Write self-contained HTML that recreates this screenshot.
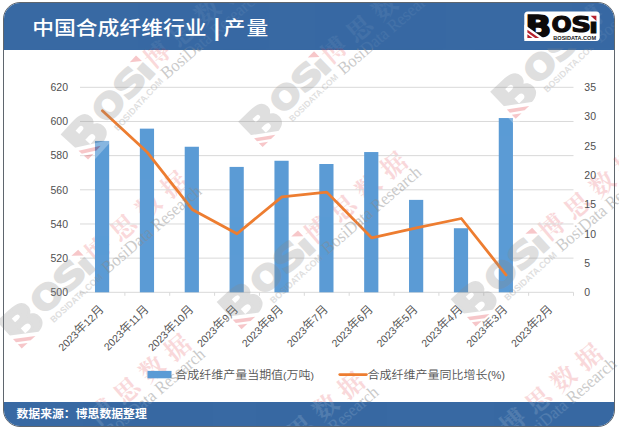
<!DOCTYPE html>
<html lang="zh-CN"><head><meta charset="utf-8"><title>中国合成纤维行业 | 产量</title>
<style>
html,body{margin:0;padding:0;background:#fff;}
body{width:619px;height:430px;position:relative;overflow:hidden;font-family:"Liberation Sans","Noto Sans CJK SC",sans-serif;}
.frame{position:absolute;left:3px;top:2px;width:610px;height:422.5px;border:1px solid #5f666e;border-radius:17px 17px 17px 17px;background:#fff;overflow:hidden;box-sizing:content-box;}
.hdr{position:absolute;left:-1px;top:-1px;width:612px;height:47.5px;background:#3869a3;}
.ftr{position:absolute;left:-1px;top:399px;width:612px;height:26px;background:#3869a3;}
.title{position:absolute;left:32.2px;top:12.4px;color:#fff;font-size:21.8px;line-height:32px;font-weight:500;white-space:nowrap;transform:scaleY(0.87);transform-origin:0 26px;}
.title .bar{display:inline-block;width:16.8px;text-align:center;font-weight:700;position:relative;top:-1.5px;left:1.8px;transform:scaleY(1.3);}
.title .t2{letter-spacing:1.4px;}
.src{position:absolute;left:16.5px;top:404.6px;color:#fff;font-size:11.85px;line-height:18px;font-weight:700;white-space:nowrap;transform:scaleY(0.93);transform-origin:0 9px;}
.chart{position:absolute;left:0;top:0;}
</style></head><body>
<div class="frame"><div class="hdr"></div><div class="ftr"></div></div>
<svg class="wm" width="619" height="430" viewBox="0 0 619 430" style="position:absolute;left:0;top:0;pointer-events:none">
<clipPath id="wmclipr"><rect x="0" y="48.5" width="619" height="353.5"/></clipPath>
<g clip-path="url(#wmclipr)">
<g transform="translate(98,249) rotate(-40.5)">
<text x="-12.5" y="9.3" font-family='"Liberation Serif","Noto Serif CJK SC",serif' font-weight="700" font-size="25" letter-spacing="8.2" fill="#e0303a" opacity="0.18">博思数据</text>
</g>
<g transform="translate(317.8,229.8) rotate(-40.5)">
<text x="-12.5" y="9.3" font-family='"Liberation Serif","Noto Serif CJK SC",serif' font-weight="700" font-size="25" letter-spacing="8.2" fill="#e0303a" opacity="0.18">博思数据</text>
</g>
<g transform="translate(552,227) rotate(-40.5)">
<text x="-12.5" y="9.3" font-family='"Liberation Serif","Noto Serif CJK SC",serif' font-weight="700" font-size="25" letter-spacing="8.2" fill="#e0303a" opacity="0.18">博思数据</text>
</g>
<g transform="translate(157,54.5) rotate(-40.5)">
<text x="-12.5" y="9.3" font-family='"Liberation Serif","Noto Serif CJK SC",serif' font-weight="700" font-size="25" letter-spacing="8.2" fill="#e0303a" opacity="0.18">博思数据</text>
</g>
<g transform="translate(334,50) rotate(-40.5)">
<text x="-12.5" y="9.3" font-family='"Liberation Serif","Noto Serif CJK SC",serif' font-weight="700" font-size="25" letter-spacing="8.2" fill="#e0303a" opacity="0.18">博思数据</text>
</g>
<g transform="translate(590.5,18.3) rotate(-40.5)">
<text x="-12.5" y="9.3" font-family='"Liberation Serif","Noto Serif CJK SC",serif' font-weight="700" font-size="25" letter-spacing="8.2" fill="#e0303a" opacity="0.18">博思数据</text>
</g>
<g transform="translate(101.5,412) rotate(-40.5)">
<text x="-12.5" y="9.3" font-family='"Liberation Serif","Noto Serif CJK SC",serif' font-weight="700" font-size="25" letter-spacing="8.2" fill="#e0303a" opacity="0.18">博思数据</text>
</g>
<g transform="translate(275,450) rotate(-40.5)">
<text x="-12.5" y="9.3" font-family='"Liberation Serif","Noto Serif CJK SC",serif' font-weight="700" font-size="25" letter-spacing="8.2" fill="#e0303a" opacity="0.18">博思数据</text>
</g>
<g transform="translate(513,421.5) rotate(-40.5)">
<text x="-12.5" y="9.3" font-family='"Liberation Serif","Noto Serif CJK SC",serif' font-weight="700" font-size="25" letter-spacing="8.2" fill="#e0303a" opacity="0.18">博思数据</text>
</g>
</g></svg>
<svg class="chart" width="619" height="430" viewBox="0 0 619 430">
<line x1="80.0" x2="573.5" y1="87.30" y2="87.30" stroke="#d9d9d9" stroke-width="1"/>
<line x1="80.0" x2="573.5" y1="121.47" y2="121.47" stroke="#d9d9d9" stroke-width="1"/>
<line x1="80.0" x2="573.5" y1="155.63" y2="155.63" stroke="#d9d9d9" stroke-width="1"/>
<line x1="80.0" x2="573.5" y1="189.80" y2="189.80" stroke="#d9d9d9" stroke-width="1"/>
<line x1="80.0" x2="573.5" y1="223.97" y2="223.97" stroke="#d9d9d9" stroke-width="1"/>
<line x1="80.0" x2="573.5" y1="258.13" y2="258.13" stroke="#d9d9d9" stroke-width="1"/>
<line x1="80.0" x2="573.5" y1="292.30" y2="292.30" stroke="#d9d9d9" stroke-width="1"/>
<line x1="80.00" x2="80.00" y1="292.3" y2="295.8" stroke="#d9d9d9" stroke-width="1"/>
<line x1="124.86" x2="124.86" y1="292.3" y2="295.8" stroke="#d9d9d9" stroke-width="1"/>
<line x1="169.73" x2="169.73" y1="292.3" y2="295.8" stroke="#d9d9d9" stroke-width="1"/>
<line x1="214.59" x2="214.59" y1="292.3" y2="295.8" stroke="#d9d9d9" stroke-width="1"/>
<line x1="259.45" x2="259.45" y1="292.3" y2="295.8" stroke="#d9d9d9" stroke-width="1"/>
<line x1="304.32" x2="304.32" y1="292.3" y2="295.8" stroke="#d9d9d9" stroke-width="1"/>
<line x1="349.18" x2="349.18" y1="292.3" y2="295.8" stroke="#d9d9d9" stroke-width="1"/>
<line x1="394.05" x2="394.05" y1="292.3" y2="295.8" stroke="#d9d9d9" stroke-width="1"/>
<line x1="438.91" x2="438.91" y1="292.3" y2="295.8" stroke="#d9d9d9" stroke-width="1"/>
<line x1="483.77" x2="483.77" y1="292.3" y2="295.8" stroke="#d9d9d9" stroke-width="1"/>
<line x1="528.64" x2="528.64" y1="292.3" y2="295.8" stroke="#d9d9d9" stroke-width="1"/>
<line x1="573.50" x2="573.50" y1="292.3" y2="295.8" stroke="#d9d9d9" stroke-width="1"/>
<rect x="94.98" y="140.94" width="14.2" height="151.36" fill="#5b9bd5"/>
<rect x="139.85" y="128.64" width="14.2" height="163.66" fill="#5b9bd5"/>
<rect x="184.71" y="146.75" width="14.2" height="145.55" fill="#5b9bd5"/>
<rect x="229.57" y="166.91" width="14.2" height="125.39" fill="#5b9bd5"/>
<rect x="274.44" y="160.76" width="14.2" height="131.54" fill="#5b9bd5"/>
<rect x="319.30" y="164.00" width="14.2" height="128.30" fill="#5b9bd5"/>
<rect x="364.16" y="152.05" width="14.2" height="140.25" fill="#5b9bd5"/>
<rect x="409.03" y="199.88" width="14.2" height="92.42" fill="#5b9bd5"/>
<rect x="453.89" y="228.24" width="14.2" height="64.06" fill="#5b9bd5"/>
<rect x="498.75" y="118.05" width="14.2" height="174.25" fill="#5b9bd5"/>
<polyline points="102.43,110.73 147.30,152.31 192.16,209.42 237.02,233.73 281.89,196.83 326.75,192.14 371.61,237.83 416.48,227.87 461.34,218.50 506.20,275.02" fill="none" stroke="#ed7d31" stroke-width="2.8" stroke-linejoin="round" stroke-linecap="round"/>
<g font-family='"Liberation Sans","Noto Sans CJK SC",sans-serif' font-size="10.5" fill="#505050">
<text x="68" y="91.10" text-anchor="end">620</text>
<text x="68" y="125.27" text-anchor="end">600</text>
<text x="68" y="159.43" text-anchor="end">580</text>
<text x="68" y="193.60" text-anchor="end">560</text>
<text x="68" y="227.77" text-anchor="end">540</text>
<text x="68" y="261.93" text-anchor="end">520</text>
<text x="68" y="296.10" text-anchor="end">500</text>
<text x="584.3" y="91.10">35</text>
<text x="584.3" y="120.39">30</text>
<text x="584.3" y="149.67">25</text>
<text x="584.3" y="178.96">20</text>
<text x="584.3" y="208.24">15</text>
<text x="584.3" y="237.53">10</text>
<text x="584.3" y="266.81">5</text>
<text x="584.3" y="296.10">0</text>
</g>
<g font-family='"Liberation Sans","Noto Sans CJK SC",sans-serif' font-size="10.5" fill="#505050">
<text text-anchor="end" transform="translate(104.53,310.00) rotate(-45)">2023<tspan font-size="12" font-weight="350">年</tspan>12<tspan font-size="12" font-weight="350">月</tspan></text>
<text text-anchor="end" transform="translate(149.40,310.00) rotate(-45)">2023<tspan font-size="12" font-weight="350">年</tspan>11<tspan font-size="12" font-weight="350">月</tspan></text>
<text text-anchor="end" transform="translate(194.26,310.00) rotate(-45)">2023<tspan font-size="12" font-weight="350">年</tspan>10<tspan font-size="12" font-weight="350">月</tspan></text>
<text text-anchor="end" transform="translate(239.12,310.00) rotate(-45)">2023<tspan font-size="12" font-weight="350">年</tspan>9<tspan font-size="12" font-weight="350">月</tspan></text>
<text text-anchor="end" transform="translate(283.99,310.00) rotate(-45)">2023<tspan font-size="12" font-weight="350">年</tspan>8<tspan font-size="12" font-weight="350">月</tspan></text>
<text text-anchor="end" transform="translate(328.85,310.00) rotate(-45)">2023<tspan font-size="12" font-weight="350">年</tspan>7<tspan font-size="12" font-weight="350">月</tspan></text>
<text text-anchor="end" transform="translate(373.71,310.00) rotate(-45)">2023<tspan font-size="12" font-weight="350">年</tspan>6<tspan font-size="12" font-weight="350">月</tspan></text>
<text text-anchor="end" transform="translate(418.58,310.00) rotate(-45)">2023<tspan font-size="12" font-weight="350">年</tspan>5<tspan font-size="12" font-weight="350">月</tspan></text>
<text text-anchor="end" transform="translate(463.44,310.00) rotate(-45)">2023<tspan font-size="12" font-weight="350">年</tspan>4<tspan font-size="12" font-weight="350">月</tspan></text>
<text text-anchor="end" transform="translate(508.30,310.00) rotate(-45)">2023<tspan font-size="12" font-weight="350">年</tspan>3<tspan font-size="12" font-weight="350">月</tspan></text>
<text text-anchor="end" transform="translate(553.17,310.00) rotate(-45)">2023<tspan font-size="12" font-weight="350">年</tspan>2<tspan font-size="12" font-weight="350">月</tspan></text>
</g>
<rect x="147.5" y="370.9" width="24" height="7.4" fill="#5b9bd5"/>
<text transform="translate(175.2,379) scale(1,0.9)" font-family='"Liberation Sans","Noto Sans CJK SC",sans-serif' font-size="12" font-weight="350" fill="#555">合成纤维产量当期值<tspan font-size="10.5">(</tspan>万吨<tspan font-size="10.5">)</tspan></text>
<line x1="339.8" x2="366.4" y1="374.6" y2="374.6" stroke="#ed7d31" stroke-width="2.8" stroke-linecap="round"/>
<text transform="translate(367.6,379) scale(1,0.9)" font-family='"Liberation Sans","Noto Sans CJK SC",sans-serif' font-size="12" font-weight="350" fill="#555">合成纤维产量同比增长<tspan font-size="11.3">(%)</tspan></text>
</svg>
<svg class="wm" width="619" height="430" viewBox="0 0 619 430" style="position:absolute;left:0;top:0;pointer-events:none">
<clipPath id="wmclipg"><rect x="0" y="48.5" width="619" height="353.5"/></clipPath>
<g clip-path="url(#wmclipg)">
<g transform="translate(98,249) rotate(-40.5)">
<g opacity="0.27">
<g transform="translate(-19.6,1.1) rotate(-2) scale(1.57) translate(-593.5,-24.3)">
<g font-family='"DejaVu Sans","Liberation Sans",sans-serif' font-weight="700" fill="#8a8a8a" stroke="#8a8a8a">
<text font-size="29" stroke-width="1.43" transform="translate(525.15,36.92) scale(1.183,1.034)">B</text>
<text font-size="21" stroke-width="1.10" transform="translate(551.48,31.95) scale(1.133,1.012)">O</text>
<text font-size="21" stroke-width="1.10" transform="translate(571.15,31.95) scale(1.311,1.012)">S</text>
<text font-size="15" stroke-width="0.66" transform="translate(588.98,32.55) scale(1.758,1.265)">ı</text>
</g>
<polygon points="524.3,24.6 547.5,40.9 524.3,40.9" fill="#fff"/>
<polygon points="527.4,29.7 539.2,37.9 535.2,37.9 527.4,32.5" fill="#e0303a"/>
<polygon points="527.4,34.3 532.5,37.9 527.4,37.9" fill="#e0303a"/>
<polygon points="590.6,15.8 596.4,15.8 596.4,20.9" fill="#e0303a"/>
<text x="553.3" y="39.8" font-family='"Liberation Sans",sans-serif' font-weight="700" font-size="5.8" fill="#8a8a8a" textLength="42.8" lengthAdjust="spacingAndGlyphs">BOSIDATA.COM</text>
</g>
</g>
<text x="-9" y="25.5" font-family='"Liberation Serif",serif' font-size="17.5" fill="#8a8a8a" opacity="0.45" textLength="125" lengthAdjust="spacingAndGlyphs">BosiData Research</text>
</g>
<g transform="translate(317.8,229.8) rotate(-40.5)">
<g opacity="0.27">
<g transform="translate(-19.6,1.1) rotate(-2) scale(1.57) translate(-593.5,-24.3)">
<g font-family='"DejaVu Sans","Liberation Sans",sans-serif' font-weight="700" fill="#8a8a8a" stroke="#8a8a8a">
<text font-size="29" stroke-width="1.43" transform="translate(525.15,36.92) scale(1.183,1.034)">B</text>
<text font-size="21" stroke-width="1.10" transform="translate(551.48,31.95) scale(1.133,1.012)">O</text>
<text font-size="21" stroke-width="1.10" transform="translate(571.15,31.95) scale(1.311,1.012)">S</text>
<text font-size="15" stroke-width="0.66" transform="translate(588.98,32.55) scale(1.758,1.265)">ı</text>
</g>
<polygon points="524.3,24.6 547.5,40.9 524.3,40.9" fill="#fff"/>
<polygon points="527.4,29.7 539.2,37.9 535.2,37.9 527.4,32.5" fill="#e0303a"/>
<polygon points="527.4,34.3 532.5,37.9 527.4,37.9" fill="#e0303a"/>
<polygon points="590.6,15.8 596.4,15.8 596.4,20.9" fill="#e0303a"/>
<text x="553.3" y="39.8" font-family='"Liberation Sans",sans-serif' font-weight="700" font-size="5.8" fill="#8a8a8a" textLength="42.8" lengthAdjust="spacingAndGlyphs">BOSIDATA.COM</text>
</g>
</g>
<text x="-9" y="25.5" font-family='"Liberation Serif",serif' font-size="17.5" fill="#8a8a8a" opacity="0.45" textLength="125" lengthAdjust="spacingAndGlyphs">BosiData Research</text>
</g>
<g transform="translate(552,227) rotate(-40.5)">
<g opacity="0.27">
<g transform="translate(-19.6,1.1) rotate(-2) scale(1.57) translate(-593.5,-24.3)">
<g font-family='"DejaVu Sans","Liberation Sans",sans-serif' font-weight="700" fill="#8a8a8a" stroke="#8a8a8a">
<text font-size="29" stroke-width="1.43" transform="translate(525.15,36.92) scale(1.183,1.034)">B</text>
<text font-size="21" stroke-width="1.10" transform="translate(551.48,31.95) scale(1.133,1.012)">O</text>
<text font-size="21" stroke-width="1.10" transform="translate(571.15,31.95) scale(1.311,1.012)">S</text>
<text font-size="15" stroke-width="0.66" transform="translate(588.98,32.55) scale(1.758,1.265)">ı</text>
</g>
<polygon points="524.3,24.6 547.5,40.9 524.3,40.9" fill="#fff"/>
<polygon points="527.4,29.7 539.2,37.9 535.2,37.9 527.4,32.5" fill="#e0303a"/>
<polygon points="527.4,34.3 532.5,37.9 527.4,37.9" fill="#e0303a"/>
<polygon points="590.6,15.8 596.4,15.8 596.4,20.9" fill="#e0303a"/>
<text x="553.3" y="39.8" font-family='"Liberation Sans",sans-serif' font-weight="700" font-size="5.8" fill="#8a8a8a" textLength="42.8" lengthAdjust="spacingAndGlyphs">BOSIDATA.COM</text>
</g>
</g>
<text x="-9" y="25.5" font-family='"Liberation Serif",serif' font-size="17.5" fill="#8a8a8a" opacity="0.45" textLength="125" lengthAdjust="spacingAndGlyphs">BosiData Research</text>
</g>
<g transform="translate(157,54.5) rotate(-40.5)">
<g opacity="0.27">
<g transform="translate(-19.6,1.1) rotate(-7) scale(1.58) translate(-593.5,-24.3)">
<g font-family='"DejaVu Sans","Liberation Sans",sans-serif' font-weight="700" fill="#8a8a8a" stroke="#8a8a8a">
<text font-size="29" stroke-width="1.43" transform="translate(525.15,36.92) scale(1.183,1.034)">B</text>
<text font-size="21" stroke-width="1.10" transform="translate(551.48,31.95) scale(1.133,1.012)">O</text>
<text font-size="21" stroke-width="1.10" transform="translate(571.15,31.95) scale(1.311,1.012)">S</text>
<text font-size="15" stroke-width="0.66" transform="translate(588.98,32.55) scale(1.758,1.265)">ı</text>
</g>
<polygon points="524.3,24.6 547.5,40.9 524.3,40.9" fill="#fff"/>
<polygon points="527.4,29.7 539.2,37.9 535.2,37.9 527.4,32.5" fill="#e0303a"/>
<polygon points="527.4,34.3 532.5,37.9 527.4,37.9" fill="#e0303a"/>
<polygon points="590.6,15.8 596.4,15.8 596.4,20.9" fill="#e0303a"/>
<text x="553.3" y="39.8" font-family='"Liberation Sans",sans-serif' font-weight="700" font-size="5.8" fill="#8a8a8a" textLength="42.8" lengthAdjust="spacingAndGlyphs">BOSIDATA.COM</text>
</g>
</g>
<text x="-9" y="25.5" font-family='"Liberation Serif",serif' font-size="17.5" fill="#8a8a8a" opacity="0.45" textLength="125" lengthAdjust="spacingAndGlyphs">BosiData Research</text>
</g>
<g transform="translate(334,50) rotate(-40.5)">
<g opacity="0.27">
<g transform="translate(-19.6,1.1) rotate(-3.5) scale(1.5) translate(-593.5,-24.3)">
<g font-family='"DejaVu Sans","Liberation Sans",sans-serif' font-weight="700" fill="#8a8a8a" stroke="#8a8a8a">
<text font-size="29" stroke-width="1.43" transform="translate(525.15,36.92) scale(1.183,1.034)">B</text>
<text font-size="21" stroke-width="1.10" transform="translate(551.48,31.95) scale(1.133,1.012)">O</text>
<text font-size="21" stroke-width="1.10" transform="translate(571.15,31.95) scale(1.311,1.012)">S</text>
<text font-size="15" stroke-width="0.66" transform="translate(588.98,32.55) scale(1.758,1.265)">ı</text>
</g>
<polygon points="524.3,24.6 547.5,40.9 524.3,40.9" fill="#fff"/>
<polygon points="527.4,29.7 539.2,37.9 535.2,37.9 527.4,32.5" fill="#e0303a"/>
<polygon points="527.4,34.3 532.5,37.9 527.4,37.9" fill="#e0303a"/>
<polygon points="590.6,15.8 596.4,15.8 596.4,20.9" fill="#e0303a"/>
<text x="553.3" y="39.8" font-family='"Liberation Sans",sans-serif' font-weight="700" font-size="5.8" fill="#8a8a8a" textLength="42.8" lengthAdjust="spacingAndGlyphs">BOSIDATA.COM</text>
</g>
</g>
<text x="-9" y="25.5" font-family='"Liberation Serif",serif' font-size="17.5" fill="#8a8a8a" opacity="0.45" textLength="125" lengthAdjust="spacingAndGlyphs">BosiData Research</text>
</g>
<g transform="translate(590.5,18.3) rotate(-40.5)">
<g opacity="0.27">
<g transform="translate(-19.6,1.1) rotate(-3) scale(1.57) translate(-593.5,-24.3)">
<g font-family='"DejaVu Sans","Liberation Sans",sans-serif' font-weight="700" fill="#8a8a8a" stroke="#8a8a8a">
<text font-size="29" stroke-width="1.43" transform="translate(525.15,36.92) scale(1.183,1.034)">B</text>
<text font-size="21" stroke-width="1.10" transform="translate(551.48,31.95) scale(1.133,1.012)">O</text>
<text font-size="21" stroke-width="1.10" transform="translate(571.15,31.95) scale(1.311,1.012)">S</text>
<text font-size="15" stroke-width="0.66" transform="translate(588.98,32.55) scale(1.758,1.265)">ı</text>
</g>
<polygon points="524.3,24.6 547.5,40.9 524.3,40.9" fill="#fff"/>
<polygon points="527.4,29.7 539.2,37.9 535.2,37.9 527.4,32.5" fill="#e0303a"/>
<polygon points="527.4,34.3 532.5,37.9 527.4,37.9" fill="#e0303a"/>
<polygon points="590.6,15.8 596.4,15.8 596.4,20.9" fill="#e0303a"/>
<text x="553.3" y="39.8" font-family='"Liberation Sans",sans-serif' font-weight="700" font-size="5.8" fill="#8a8a8a" textLength="42.8" lengthAdjust="spacingAndGlyphs">BOSIDATA.COM</text>
</g>
</g>
<text x="-9" y="25.5" font-family='"Liberation Serif",serif' font-size="17.5" fill="#8a8a8a" opacity="0.45" textLength="125" lengthAdjust="spacingAndGlyphs">BosiData Research</text>
</g>
<g transform="translate(101.5,412) rotate(-40.5)">
<g opacity="0.27">
<g transform="translate(-19.6,1.1) rotate(-2) scale(1.57) translate(-593.5,-24.3)">
<g font-family='"DejaVu Sans","Liberation Sans",sans-serif' font-weight="700" fill="#8a8a8a" stroke="#8a8a8a">
<text font-size="29" stroke-width="1.43" transform="translate(525.15,36.92) scale(1.183,1.034)">B</text>
<text font-size="21" stroke-width="1.10" transform="translate(551.48,31.95) scale(1.133,1.012)">O</text>
<text font-size="21" stroke-width="1.10" transform="translate(571.15,31.95) scale(1.311,1.012)">S</text>
<text font-size="15" stroke-width="0.66" transform="translate(588.98,32.55) scale(1.758,1.265)">ı</text>
</g>
<polygon points="524.3,24.6 547.5,40.9 524.3,40.9" fill="#fff"/>
<polygon points="527.4,29.7 539.2,37.9 535.2,37.9 527.4,32.5" fill="#e0303a"/>
<polygon points="527.4,34.3 532.5,37.9 527.4,37.9" fill="#e0303a"/>
<polygon points="590.6,15.8 596.4,15.8 596.4,20.9" fill="#e0303a"/>
<text x="553.3" y="39.8" font-family='"Liberation Sans",sans-serif' font-weight="700" font-size="5.8" fill="#8a8a8a" textLength="42.8" lengthAdjust="spacingAndGlyphs">BOSIDATA.COM</text>
</g>
</g>
<text x="-9" y="25.5" font-family='"Liberation Serif",serif' font-size="17.5" fill="#8a8a8a" opacity="0.45" textLength="125" lengthAdjust="spacingAndGlyphs">BosiData Research</text>
</g>
<g transform="translate(275,450) rotate(-40.5)">
<g opacity="0.27">
<g transform="translate(-19.6,1.1) rotate(-2) scale(1.57) translate(-593.5,-24.3)">
<g font-family='"DejaVu Sans","Liberation Sans",sans-serif' font-weight="700" fill="#8a8a8a" stroke="#8a8a8a">
<text font-size="29" stroke-width="1.43" transform="translate(525.15,36.92) scale(1.183,1.034)">B</text>
<text font-size="21" stroke-width="1.10" transform="translate(551.48,31.95) scale(1.133,1.012)">O</text>
<text font-size="21" stroke-width="1.10" transform="translate(571.15,31.95) scale(1.311,1.012)">S</text>
<text font-size="15" stroke-width="0.66" transform="translate(588.98,32.55) scale(1.758,1.265)">ı</text>
</g>
<polygon points="524.3,24.6 547.5,40.9 524.3,40.9" fill="#fff"/>
<polygon points="527.4,29.7 539.2,37.9 535.2,37.9 527.4,32.5" fill="#e0303a"/>
<polygon points="527.4,34.3 532.5,37.9 527.4,37.9" fill="#e0303a"/>
<polygon points="590.6,15.8 596.4,15.8 596.4,20.9" fill="#e0303a"/>
<text x="553.3" y="39.8" font-family='"Liberation Sans",sans-serif' font-weight="700" font-size="5.8" fill="#8a8a8a" textLength="42.8" lengthAdjust="spacingAndGlyphs">BOSIDATA.COM</text>
</g>
</g>
<text x="-9" y="25.5" font-family='"Liberation Serif",serif' font-size="17.5" fill="#8a8a8a" opacity="0.45" textLength="125" lengthAdjust="spacingAndGlyphs">BosiData Research</text>
</g>
<g transform="translate(513,421.5) rotate(-40.5)">
<g opacity="0.27">
<g transform="translate(-19.6,1.1) rotate(-2) scale(1.57) translate(-593.5,-24.3)">
<g font-family='"DejaVu Sans","Liberation Sans",sans-serif' font-weight="700" fill="#8a8a8a" stroke="#8a8a8a">
<text font-size="29" stroke-width="1.43" transform="translate(525.15,36.92) scale(1.183,1.034)">B</text>
<text font-size="21" stroke-width="1.10" transform="translate(551.48,31.95) scale(1.133,1.012)">O</text>
<text font-size="21" stroke-width="1.10" transform="translate(571.15,31.95) scale(1.311,1.012)">S</text>
<text font-size="15" stroke-width="0.66" transform="translate(588.98,32.55) scale(1.758,1.265)">ı</text>
</g>
<polygon points="524.3,24.6 547.5,40.9 524.3,40.9" fill="#fff"/>
<polygon points="527.4,29.7 539.2,37.9 535.2,37.9 527.4,32.5" fill="#e0303a"/>
<polygon points="527.4,34.3 532.5,37.9 527.4,37.9" fill="#e0303a"/>
<polygon points="590.6,15.8 596.4,15.8 596.4,20.9" fill="#e0303a"/>
<text x="553.3" y="39.8" font-family='"Liberation Sans",sans-serif' font-weight="700" font-size="5.8" fill="#8a8a8a" textLength="42.8" lengthAdjust="spacingAndGlyphs">BOSIDATA.COM</text>
</g>
</g>
<text x="-9" y="25.5" font-family='"Liberation Serif",serif' font-size="17.5" fill="#8a8a8a" opacity="0.45" textLength="125" lengthAdjust="spacingAndGlyphs">BosiData Research</text>
</g>
</g></svg>
<svg class="wm" width="619" height="430" viewBox="0 0 619 430" style="position:absolute;left:0;top:0;pointer-events:none">
<clipPath id="wmcliph"><rect x="4" y="3" width="610.5" height="45.5"/><rect x="4" y="402" width="610.5" height="24"/></clipPath>
<g clip-path="url(#wmcliph)" fill="#fff">
<g opacity="0.06" transform="translate(157,54.5) rotate(-40.5)">
<text x="-12.5" y="9.3" font-family='"Liberation Serif","Noto Serif CJK SC",serif' font-weight="700" font-size="25" letter-spacing="8.2">博思数据</text>
<text x="-9" y="25.5" font-family='"Liberation Serif",serif' font-size="17.5" textLength="125" lengthAdjust="spacingAndGlyphs">BosiData Research</text>
</g>
<g opacity="0.06" transform="translate(334,50) rotate(-40.5)">
<text x="-12.5" y="9.3" font-family='"Liberation Serif","Noto Serif CJK SC",serif' font-weight="700" font-size="25" letter-spacing="8.2">博思数据</text>
<text x="-9" y="25.5" font-family='"Liberation Serif",serif' font-size="17.5" textLength="125" lengthAdjust="spacingAndGlyphs">BosiData Research</text>
</g>
<g opacity="0.06" transform="translate(590.5,18.3) rotate(-40.5)">
<text x="-12.5" y="9.3" font-family='"Liberation Serif","Noto Serif CJK SC",serif' font-weight="700" font-size="25" letter-spacing="8.2">博思数据</text>
<text x="-9" y="25.5" font-family='"Liberation Serif",serif' font-size="17.5" textLength="125" lengthAdjust="spacingAndGlyphs">BosiData Research</text>
</g>
<g opacity="0.13" transform="translate(101.5,412) rotate(-40.5)">
<text x="-12.5" y="9.3" font-family='"Liberation Serif","Noto Serif CJK SC",serif' font-weight="700" font-size="25" letter-spacing="8.2">博思数据</text>
<text x="-9" y="25.5" font-family='"Liberation Serif",serif' font-size="17.5" textLength="125" lengthAdjust="spacingAndGlyphs">BosiData Research</text>
</g>
<g opacity="0.13" transform="translate(275,450) rotate(-40.5)">
<text x="-12.5" y="9.3" font-family='"Liberation Serif","Noto Serif CJK SC",serif' font-weight="700" font-size="25" letter-spacing="8.2">博思数据</text>
<text x="-9" y="25.5" font-family='"Liberation Serif",serif' font-size="17.5" textLength="125" lengthAdjust="spacingAndGlyphs">BosiData Research</text>
</g>
<g opacity="0.13" transform="translate(513,421.5) rotate(-40.5)">
<text x="-12.5" y="9.3" font-family='"Liberation Serif","Noto Serif CJK SC",serif' font-weight="700" font-size="25" letter-spacing="8.2">博思数据</text>
<text x="-9" y="25.5" font-family='"Liberation Serif",serif' font-size="17.5" textLength="125" lengthAdjust="spacingAndGlyphs">BosiData Research</text>
</g>
</g></svg>
<div class="title">中国合成纤维行业<span class="bar">|</span><span class="t2">产量</span></div>
<svg class="logo" width="80" height="34" viewBox="522 9 80 34" style="position:absolute;left:522px;top:9px;overflow:visible">
<rect x="524.3" y="11.6" width="75.4" height="29.3" rx="3.6" ry="3.6" fill="#fff"/>
<g font-family='"DejaVu Sans","Liberation Sans",sans-serif' font-weight="700" fill="#0d0a0a" stroke="#0d0a0a" stroke-linejoin="miter">
<text font-size="29" stroke-width="1.43" transform="translate(525.15,36.92) scale(1.183,1.034)">B</text>
<text font-size="21" stroke-width="1.10" transform="translate(551.48,31.95) scale(1.133,1.012)">O</text>
<text font-size="21" stroke-width="1.10" transform="translate(571.15,31.95) scale(1.311,1.012)">S</text>
<text font-size="15" stroke-width="0.66" transform="translate(588.98,32.55) scale(1.758,1.265)">ı</text>
</g>
<polygon points="524.3,24.6 547.5,40.9 524.3,40.9" fill="#fff"/>
<polygon points="527.4,29.7 539.2,37.9 535.2,37.9 527.4,32.5" fill="#b5202c"/>
<polygon points="527.4,34.3 532.5,37.9 527.4,37.9" fill="#b5202c"/>
<polygon points="590.6,15.8 596.4,15.8 596.4,20.9" fill="#b5202c"/>
<text x="553.3" y="39.8" font-family='"Liberation Sans",sans-serif' font-weight="700" font-size="5.8" fill="#1a1a1a" textLength="42.8" lengthAdjust="spacingAndGlyphs">BOSIDATA.COM</text>
</svg>

<div class="src">数据来源：博思数据整理</div>
</body></html>
